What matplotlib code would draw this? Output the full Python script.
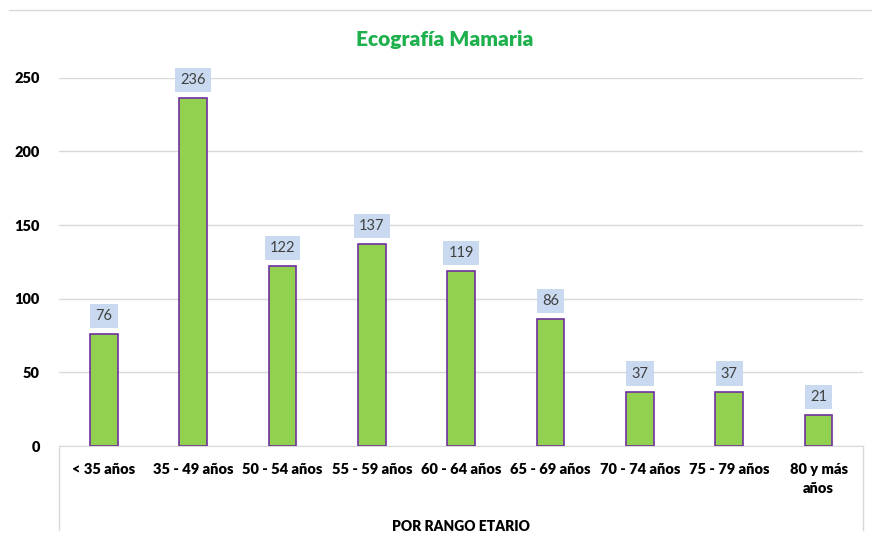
import numpy as np
import matplotlib.pyplot as plt
from matplotlib.lines import Line2D

categories = ['< 35 años', '35 - 49 años', '50 - 54 años', '55 - 59 años', '60 - 64 años',
              '65 - 69 años', '70 - 74 años', '75 - 79 años', '80 y más\naños']
values = [76, 236, 122, 137, 119, 86, 37, 37, 21]
yticks = [0, 50, 100, 150, 200, 250]

plt.rcParams['font.family'] = ['Lato', 'DejaVu Sans']

fig = plt.figure(figsize=(8.72, 5.33), dpi=100)
ax = fig.add_axes([0.068, 0.163, 0.922, 0.691])

x = np.arange(len(categories))
ax.bar(x, values, width=0.31, color='#92D050', edgecolor='#7030A0', linewidth=1.2, zorder=3)

for xi, v in zip(x, values):
    ax.annotate(str(v), (xi, v), xytext=(0, 13), textcoords='offset points',
                ha='center', va='center', fontsize=10.5, color='#404040',
                bbox=dict(boxstyle='square,pad=0.35', facecolor='#C9DAF0', edgecolor='none'))

ax.set_xlim(-0.5, len(categories) - 0.5)
ax.set_ylim(0, 250)
ax.set_yticks(yticks)
ax.set_yticklabels([str(t) for t in yticks], fontsize=10.5, fontweight='heavy')
ax.yaxis.grid(True, color='#D9D9D9', linewidth=1, zorder=0)
ax.tick_params(axis='y', length=0, pad=14)
ax.set_xticks(x)
ax.set_xticklabels(categories, fontsize=10.5, fontweight='heavy', linespacing=1.6)
ax.tick_params(axis='x', length=0, pad=12)
for s in ['top', 'right', 'left']:
    ax.spines[s].set_visible(False)
ax.spines['bottom'].set_color('#D9D9D9')

ax.set_xlabel('POR RANGO ETARIO', fontsize=10, fontweight='heavy', labelpad=18)

# category table box lines
fig.add_artist(Line2D([0.068, 0.068], [0.005, 0.163], color='#D9D9D9', lw=1))
fig.add_artist(Line2D([0.99, 0.99], [0.005, 0.163], color='#D9D9D9', lw=1))
# top border line
fig.add_artist(Line2D([0.01, 1.0], [0.981, 0.981], color='#D9D9D9', lw=1))

fig.text(0.51, 0.925, 'Ecografía Mamaria', ha='center', va='center',
         fontsize=15, fontweight='heavy', color='#1DB04C')

fig.savefig('out.png', dpi=100)
